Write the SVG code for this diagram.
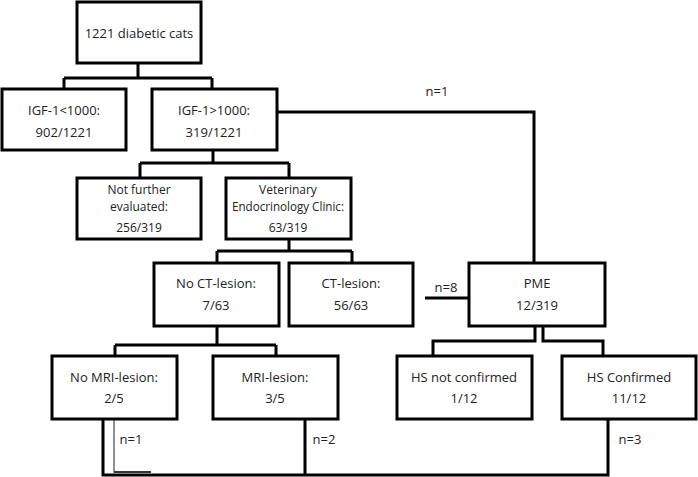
<svg xmlns="http://www.w3.org/2000/svg" width="698" height="477" viewBox="0 0 698 477">
<style>
.box{fill:#fff;stroke:#000;stroke-width:3}
.ln{fill:none;stroke:#000;stroke-width:3}
.thin{fill:none;stroke:#555;stroke-width:1.3}
text{font-family:"Open Sans","Liberation Sans",sans-serif;font-size:13px;fill:#222;text-anchor:middle}
.sm{font-size:12px}
</style>
<rect width="698" height="477" fill="#fff"/>
<g id="connectors">
<path class="ln" d="M138 63V78M64 78H212M64 78V89M212 78V89"/>
<path class="ln" d="M277 112H534V263"/>
<path class="ln" d="M213 150V163M140 163H289M140 163V178M289 163V178"/>
<path class="ln" d="M289 239V251M217 251H352M217 251V263M352 251V263"/>
<path class="ln" d="M217 326V345M115 345H276M115 345V356M276 345V356"/>
<path class="ln" d="M425 298H469"/>
<path class="ln" d="M535 326V341H433V356M543 326V341H603V356"/>
<path class="ln" d="M103 419V475H608V419M305 419V475"/>
<path class="thin" d="M114 420V472H151"/>
<path d="M114 472H151" stroke="#333" stroke-width="2"/>
<text x="437" y="96">n=1</text>
<text x="446" y="292">n=8</text>
<text x="131" y="444">n=1</text>
<text x="324" y="444">n=2</text>
<text x="630" y="444">n=3</text>
</g>
<g id="n_cats"><rect class="box" x="77" y="2" width="124" height="61"/><text x="139" y="38">1221 diabetic cats</text></g>
<g id="n_igf_low"><rect class="box" x="2" y="89" width="124" height="61"/><text x="64" y="115">IGF-1&lt;1000:</text><text x="64" y="137">902/1221</text></g>
<g id="n_igf_high"><rect class="box" x="152" y="89" width="125" height="61"/><text x="214" y="115">IGF-1&gt;1000:</text><text x="214" y="137">319/1221</text></g>
<g id="n_not_eval"><rect class="box" x="77" y="178" width="124" height="61"/><text class="sm" x="139" y="194">Not further</text><text class="sm" x="139" y="211">evaluated:</text><text class="sm" x="139" y="232">256/319</text></g>
<g id="n_vet"><rect class="box" x="226" y="178" width="125" height="61"/><text class="sm" x="288" y="194">Veterinary</text><text class="sm" x="288" y="211" textLength="112" lengthAdjust="spacingAndGlyphs">Endocrinology Clinic:</text><text class="sm" x="288" y="232">63/319</text></g>
<g id="n_noct"><rect class="box" x="154" y="263" width="125" height="63"/><text x="216" y="288">No CT-lesion:</text><text x="216" y="310">7/63</text></g>
<g id="n_ct"><rect class="box" x="289" y="263" width="124" height="63"/><text x="351" y="288">CT-lesion:</text><text x="351" y="310">56/63</text></g>
<g id="n_pme"><rect class="box" x="469" y="263" width="136" height="63"/><text x="537" y="288">PME</text><text x="537" y="310">12/319</text></g>
<g id="n_nomri"><rect class="box" x="52" y="356" width="125" height="63"/><text x="114" y="382">No MRI-lesion:</text><text x="114" y="403">2/5</text></g>
<g id="n_mri"><rect class="box" x="213" y="356" width="125" height="63"/><text x="275" y="382">MRI-lesion:</text><text x="275" y="403">3/5</text></g>
<g id="n_hsno"><rect class="box" x="397" y="356" width="135" height="63"/><text x="464" y="382">HS not confirmed</text><text x="464" y="403">1/12</text></g>
<g id="n_hsyes"><rect class="box" x="562" y="356" width="134" height="63"/><text x="629" y="382">HS Confirmed</text><text x="629" y="403">11/12</text></g>
</svg>
